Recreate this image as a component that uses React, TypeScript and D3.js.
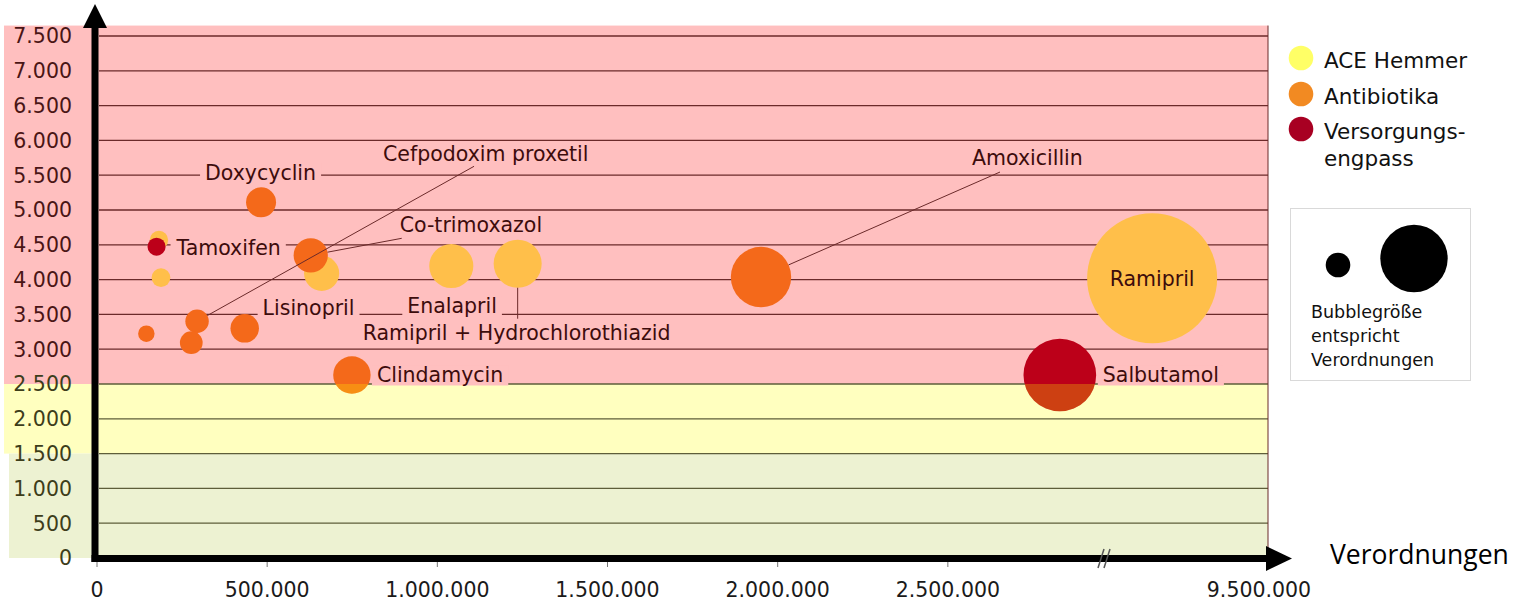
import { useEffect, useRef } from "react";
import * as d3 from "d3";

// Legende
const groupNames = ["ACE Hemmer", "Antibiotika", "Versorgungsengpass"];
const legendLines = [["ACE Hemmer"], ["Antibiotika"], ["Versorgungs-", "engpass"]];
const sizeLegendLines = ["Bubblegröße", "entspricht", "Verordnungen"];

// Blasen (Reihenfolge = Zeichenreihenfolge)
const drugNames = [
	"", "", "Lisinopril", "Enalapril", "Ramipril + Hydrochlorothiazid", "Ramipril",
	"", "Cefpodoxim proxetil", "", "", "Doxycyclin", "Co-trimoxazol", "Clindamycin", "Amoxicillin",
	"Tamoxifen", "Salbutamol",
];
const drugGroups = [0, 0, 0, 0, 0, 0, 1, 1, 1, 1, 1, 1, 1, 1, 2, 2];
const prescriptions = [
	182000, 188000, 660000, 1041000, 1236000, 9050000,
	145000, 294000, 277000, 434000, 482000, 628000, 749000, 1951000,
	175000, 2829000,
];
const yValues = [
	4570, 4030, 4090, 4195, 4228, 4020,
	3223, 3401, 3093, 3300, 5110, 4349, 2629, 4037,
	4473, 2629,
];

// Achsen
const yTicks = [0, 500, 1000, 1500, 2000, 2500, 3000, 3500, 4000, 4500, 5000, 5500, 6000, 6500, 7000, 7500];
const xTicks = [0, 500000, 1000000, 1500000, 2000000, 2500000, 9500000];
const bandLimits = [1500, 2500, 7650];

// Beschriftungen: Versatz zur Blase (px), Box über Gitterlinie, Führungslinie
const labelLayout: Record<string, { dx: number; dy: number; box?: boolean; lx?: number; ly?: number; middle?: boolean }> = {
	Doxycyclin: { dx: -56, dy: -30, box: true },
	"Cefpodoxim proxetil": { dx: 186, dy: -168, lx: 277, ly: -155 },
	"Co-trimoxazol": { dx: 89, dy: -31, lx: 91, ly: -17 },
	Tamoxifen: { dx: 20, dy: 1, box: true },
	Lisinopril: { dx: -59, dy: 34, box: true },
	Enalapril: { dx: -44, dy: 40, box: true },
	"Ramipril + Hydrochlorothiazid": { dx: -155, dy: 69, lx: 0, ly: 55 },
	Clindamycin: { dx: 25, dy: 0, box: true },
	Amoxicillin: { dx: 211, dy: -119, lx: 239, ly: -105 },
	Salbutamol: { dx: 43, dy: 0, box: true },
	Ramipril: { dx: 0, dy: 0, middle: true },
};

const bubbleColors = ["#FFBF4A", "#F4691A", "#BC0019"];
const legendColors = ["#FFFF66", "#F28A22", "#A80022"];
const FONT = "DejaVu Sans, Verdana, sans-serif";

const de = d3.formatLocale({ decimal: ",", thousands: ".", grouping: [3], currency: ["", " €"] });
const fmt = de.format(",");

const BubbleChart = () => {
	const svgRef = useRef<SVGSVGElement>(null);

	useEffect(() => {
		if (!svgRef.current) return;
		const svg = d3.select(svgRef.current);
		svg.selectAll("*").remove();

		const left = 97;
		const plotRight = 1268;
		const xScale = d3
			.scaleLinear()
			.domain([0, 2950000, 8860000, 9500000])
			.range([left, 1101, 1107, 1259]);
		const yScale = d3.scaleLinear().domain([0, 7500]).range([558, 36]);
		const rScale = d3.scaleSqrt().domain([0, 9050000]).range([0, 65]);

		// Hintergrundbänder
		const pinkTop = yScale(bandLimits[2]);
		svg.append("rect").attr("x", 4).attr("y", pinkTop).attr("width", plotRight - 4)
			.attr("height", yScale(bandLimits[1]) - pinkTop).attr("fill", "#FFBFBF");
		svg.append("rect").attr("x", 4).attr("y", yScale(bandLimits[1])).attr("width", plotRight - 4)
			.attr("height", yScale(bandLimits[0]) - yScale(bandLimits[1])).attr("fill", "#FFFFBF");
		svg.append("rect").attr("x", 9).attr("y", yScale(bandLimits[0])).attr("width", plotRight - 9)
			.attr("height", yScale(0) - yScale(bandLimits[0])).attr("fill", "#EDF2D2");

		// Gitterlinien
		svg.append("g")
			.selectAll("line")
			.data(yTicks.filter((v) => v > 0))
			.enter()
			.append("line")
			.attr("x1", left + 2)
			.attr("x2", plotRight)
			.attr("y1", (d) => yScale(d))
			.attr("y2", (d) => yScale(d))
			.attr("stroke", (d) => (d > 2500 ? "#6B2A2A" : "#5E5E3A"))
			.attr("stroke-width", 1.3);
		svg.append("line").attr("x1", plotRight).attr("x2", plotRight).attr("y1", pinkTop).attr("y2", yScale(0))
			.attr("stroke", "#6B2A2A").attr("stroke-width", 1);

		// Y-Beschriftung
		svg.append("g")
			.selectAll("text")
			.data(yTicks)
			.enter()
			.append("text")
			.attr("x", 72)
			.attr("y", (d) => yScale(d))
			.attr("dy", "0.36em")
			.attr("text-anchor", "end")
			.attr("font-family", FONT)
			.attr("font-size", 20.5)
			.attr("fill", (d) => (d > 2500 ? "#4A1515" : "#3D3D1A"))
			.text((d) => fmt(d));

		const bubbles = drugNames.map((name, i) => ({
			name,
			group: drugGroups[i],
			x: xScale(prescriptions[i]),
			y: yScale(yValues[i]),
			r: rScale(prescriptions[i]),
		}));

		// Blasen
		svg.append("g")
			.selectAll("circle")
			.data(bubbles)
			.enter()
			.append("circle")
			.attr("cx", (d) => d.x)
			.attr("cy", (d) => d.y)
			.attr("r", (d) => d.r)
			.attr("fill", (d) => bubbleColors[d.group]);

		// gelbe Tönung der Blasen im gelben Band
		svg.append("clipPath").attr("id", "yellowBand")
			.append("rect").attr("x", 0).attr("y", yScale(bandLimits[1])).attr("width", plotRight)
			.attr("height", yScale(bandLimits[0]) - yScale(bandLimits[1]));
		svg.append("g")
			.attr("clip-path", "url(#yellowBand)")
			.selectAll("circle")
			.data(bubbles)
			.enter()
			.append("circle")
			.attr("cx", (d) => d.x)
			.attr("cy", (d) => d.y)
			.attr("r", (d) => d.r)
			.attr("fill", "#FFFF00")
			.attr("opacity", 0.25);

		// Beschriftungen
		const labels = svg.append("g");
		bubbles.forEach((b) => {
			const lay = labelLayout[b.name];
			if (!b.name || !lay) return;
			if (lay.lx !== undefined && lay.ly !== undefined) {
				const sx = b.x + lay.lx;
				const sy = b.y + lay.ly;
				const len = Math.hypot(sx - b.x, sy - b.y);
				labels.append("line")
					.attr("x1", sx).attr("y1", sy)
					.attr("x2", b.x + ((sx - b.x) / len) * b.r)
					.attr("y2", b.y + ((sy - b.y) / len) * b.r)
					.attr("stroke", "#6B2A2A").attr("stroke-width", 1);
			}
			const t = labels.append("text")
				.attr("x", b.x + lay.dx)
				.attr("y", b.y + lay.dy)
				.attr("dy", "0.36em")
				.attr("text-anchor", lay.middle ? "middle" : "start")
				.attr("font-family", FONT)
				.attr("font-size", 20.5)
				.attr("fill", "#3D0C0C")
				.text(b.name);
			if (lay.box) {
				// Box verdeckt nur die nächstgelegene Gitterlinie
				const bb = (t.node() as SVGTextElement).getBBox();
				const cy = b.y + lay.dy;
				const lineY = yTicks
					.map((v) => yScale(v))
					.reduce((best, y) => (Math.abs(y - cy) < Math.abs(best - cy) ? y : best));
				const top = Math.min(bb.y + 2, lineY - 2);
				const bottom = lineY + 1.5;
				labels.insert("rect", () => t.node())
					.attr("x", bb.x - 5).attr("y", top)
					.attr("width", bb.width + 10).attr("height", bottom - top)
					.attr("fill", "#FFBFBF");
			}
		});

		// Achsen
		svg.append("rect").attr("x", 91.5).attr("y", 24).attr("width", 7).attr("height", 538).attr("fill", "#000");
		svg.append("path").attr("d", "M83,28 L107,28 L95,4 Z").attr("fill", "#000");
		svg.append("rect").attr("x", 91.5).attr("y", 555).attr("width", plotRight - 89).attr("height", 7).attr("fill", "#000");
		svg.append("path").attr("d", `M${plotRight - 2},546 L${plotRight - 2},571 L1292,558.5 Z`).attr("fill", "#000");

		// X-Ticks
		svg.append("g")
			.selectAll("line")
			.data(xTicks.slice(0, -1))
			.enter()
			.append("line")
			.attr("x1", (d) => xScale(d))
			.attr("x2", (d) => xScale(d))
			.attr("y1", 562)
			.attr("y2", 567)
			.attr("stroke", "#777")
			.attr("stroke-width", 1);
		svg.append("g")
			.selectAll("text")
			.data(xTicks)
			.enter()
			.append("text")
			.attr("x", (d) => xScale(d))
			.attr("y", 597)
			.attr("text-anchor", "middle")
			.attr("font-family", FONT)
			.attr("font-size", 20.5)
			.attr("fill", "#1A1A1A")
			.text((d) => fmt(d));

		// Achsenbruch
		const bx = xScale(2950000) + 3;
		[0, 6].forEach((o) => {
			svg.append("line")
				.attr("x1", bx + o).attr("y1", 549)
				.attr("x2", bx + o - 6).attr("y2", 568)
				.attr("stroke", "#555").attr("stroke-width", 1.5);
		});

		svg.append("text")
			.attr("x", 1330)
			.attr("y", 564)
			.attr("font-family", "Open Sans, sans-serif")
			.attr("font-size", 26.5)
			.attr("fill", "#000")
			.text("Verordnungen");

		// Legende
		const legend = svg.append("g");
		const legendY = [58, 94, 129];
		groupNames.forEach((_g, i) => {
			legend.append("circle").attr("cx", 1301).attr("cy", legendY[i]).attr("r", 12.3).attr("fill", legendColors[i]);
			legendLines[i].forEach((line, j) => {
				legend.append("text")
					.attr("x", 1324)
					.attr("y", legendY[i] + 10 + j * 27)
					.attr("font-family", FONT)
					.attr("font-size", 21.5)
					.attr("fill", "#111")
					.text(line);
			});
		});

		// Größenlegende
		legend.append("rect").attr("x", 1290.5).attr("y", 208.5).attr("width", 180).attr("height", 172)
			.attr("fill", "#fff").attr("stroke", "#D9D9D9").attr("stroke-width", 1);
		legend.append("circle").attr("cx", 1338).attr("cy", 265).attr("r", 12.3).attr("fill", "#000");
		legend.append("circle").attr("cx", 1414).attr("cy", 258.5).attr("r", 33.7).attr("fill", "#000");
		sizeLegendLines.forEach((line, j) => {
			legend.append("text")
				.attr("x", 1311)
				.attr("y", 318 + j * 24)
				.attr("font-family", FONT)
				.attr("font-size", 17.5)
				.attr("fill", "#111")
				.text(line);
		});
	}, []);

	return <svg ref={svgRef} width={1532} height={602} style={{ position: "absolute", left: 0, top: 0 }}></svg>;
};

export default function App() {
	return <BubbleChart />;
}
